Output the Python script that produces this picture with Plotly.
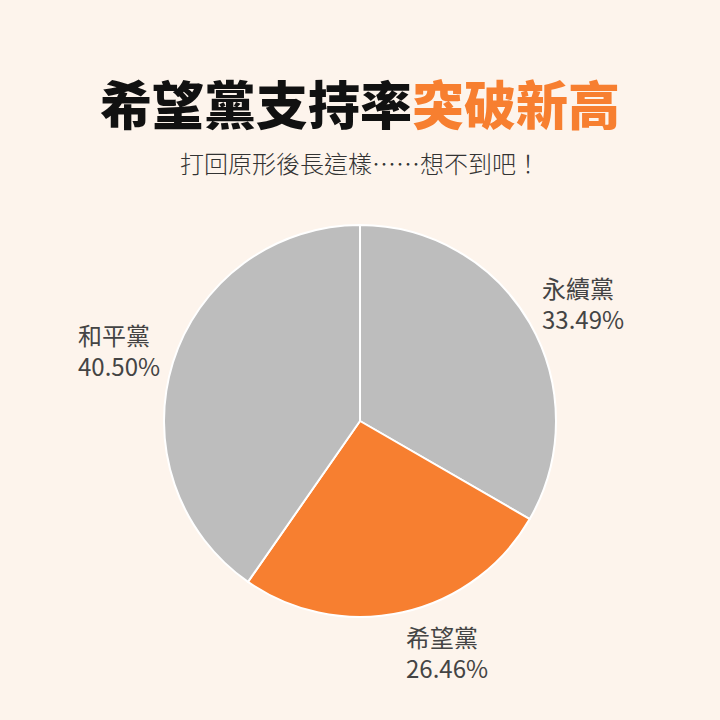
import math
import plotly.graph_objects as go

# party support data
parties = ["永續黨", "希望黨", "和平黨"]
support = [33.49, 26.46, 40.50]
slice_colors = ["#bdbdbd", "#f77f30", "#bdbdbd"]

title_black = "希望黨支持率"
title_orange = "突破新高"
subtitle = "打回原形後長這樣……想不到吧！"

bg = "#fdf4ec"
W = H = 720
cx, cy, r = 360, 421, 196  # pie centre and radius in pixels
gap = 13        # label distance from the rim
label_h = 55    # rough height of a two-line label

fig = go.Figure()
fig.add_trace(go.Pie(
    labels=parties,
    values=support,
    sort=False,
    direction="clockwise",
    rotation=0,
    marker=dict(colors=slice_colors, line=dict(color="white", width=2)),
    textinfo="none",
    hoverinfo="label+value",
    showlegend=False,
    domain=dict(x=[(cx - r) / W, (cx + r) / W], y=[1 - (cy + r) / H, 1 - (cy - r) / H]),
))

# outside labels at each slice's mid angle
total = sum(support)
start = 0.0
for name, val in zip(parties, support):
    mid = math.radians((start + val / 2) / total * 360)
    start += val
    sx, sy = math.sin(mid), -math.cos(mid)
    px = cx + (r + gap) * sx
    py = cy + (r + gap) * sy + sy * label_h / 2
    fig.add_annotation(
        text=f"{name}<br>{val:.2f}%",
        x=px / W, y=1 - py / H, xref="paper", yref="paper",
        xanchor="left" if sx >= 0 else "right", yanchor="middle",
        align="left", showarrow=False, borderpad=0,
        font=dict(family="Noto Sans CJK TC", size=24, color="#444444"),
    )

fig.add_annotation(
    text=f"{title_black}<span style='color:#f77f30'>{title_orange}</span>",
    x=0.5, y=1 - 103 / H, xref="paper", yref="paper",
    xanchor="center", yanchor="middle", showarrow=False,
    font=dict(family="Noto Sans CJK TC", size=52, color="#111111", weight=900),
)
fig.add_annotation(
    text=subtitle,
    x=0.5, y=1 - 163 / H, xref="paper", yref="paper",
    xanchor="center", yanchor="middle", showarrow=False,
    font=dict(family="Noto Sans CJK TC", size=24, color="#333333", weight=300),
)

fig.update_layout(
    width=W, height=H,
    margin=dict(l=0, r=0, t=0, b=0),
    paper_bgcolor=bg,
    plot_bgcolor=bg,
)

# drop the default page margin so the chart fills the window
fig.write_html("out.html", config={"displayModeBar": False},
               post_script="document.body.style.margin='0';")
